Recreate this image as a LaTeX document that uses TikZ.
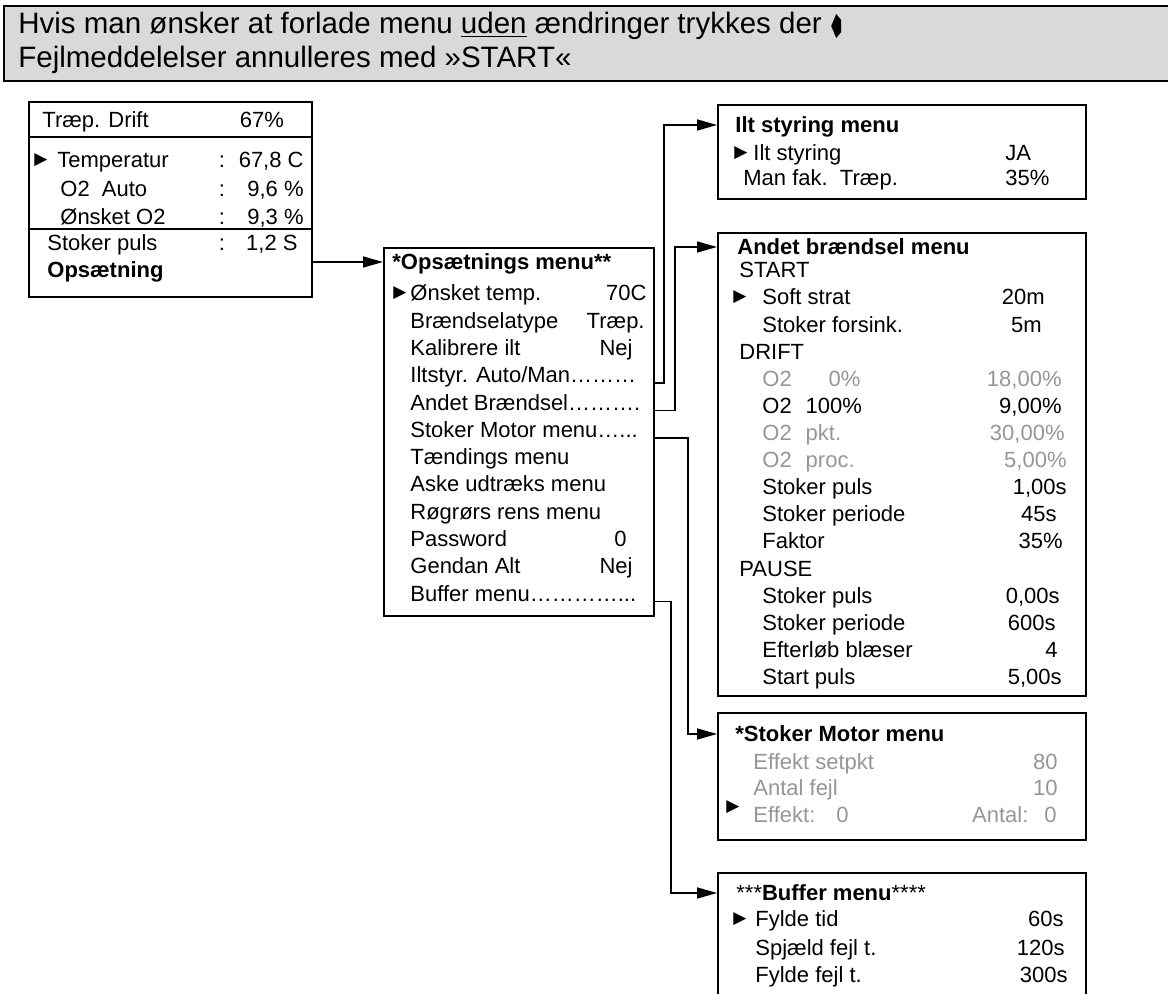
\documentclass[tikz,border=0pt]{standalone}
\usepackage{fontspec}
\setmainfont{Liberation Sans}
\newfontfamily\symfont{DejaVu Sans}
\usetikzlibrary{arrows.meta,calc,positioning}
\definecolor{notegray}{RGB}{217,217,217}
\definecolor{dimgray}{RGB}{150,150,150}

\begin{document}
\begin{tikzpicture}[
  x=0.5pt, y=-0.5pt,
  frame/.style={draw, line width=1pt, anchor=north west, inner sep=0pt},
  txt/.style={anchor=west, inner sep=0pt, text height=7.9pt, text depth=0pt, font=\fontsize{11pt}{13pt}\selectfont},
  val/.style={txt, anchor=east},
  head/.style={txt, font=\fontsize{11pt}{13pt}\selectfont\bfseries},
  dim/.style={text=dimgray},
  pointer/.style={inner sep=0pt, font=\symfont\fontsize{8.5pt}{8.5pt}\selectfont},
  msg/.style={anchor=west, inner sep=0pt, font=\fontsize{14.75pt}{17.5pt}\selectfont},
  arr/.style={line width=0.8pt, -{Triangle[length=10pt,width=5.5pt]}}
  ]
  \useasboundingbox (0,0) rectangle (1168,994);

  % banner
  \node[frame, fill=notegray, line width=1.2pt, minimum width=600pt, minimum height=37.5pt] (note) at (3,5) {};
  \node[msg] (msg1) at (18,26) {Hvis man ønsker at forlade menu \underline{uden} ændringer trykkes der};
  \node[msg] (msg2) at (18,60) {Fejlmeddelelser annulleres med »START«};
  \fill ($(msg1.east)+(9,0)$) -- ++(5,-12) -- ++(5,6) -- ++(0,12) -- ++(-5,6) -- cycle;

  % status display
  \node[frame, minimum width=141.5pt, minimum height=97.5pt] (main) at (28,101) {};
  \draw[line width=1pt] (28,137) -- (311,137) (28,229) -- (311,229);
  \node[txt] (drift) at (42,120) {Træp. Drift};
  \node[txt, anchor=center] (load) at (262,120) {67\%};
  \node[pointer] (mMark) at (41,160) {▶};
  \node[txt] (temp) at (57,160) {Temperatur};
  \node[txt] (o2auto) at (60,189) {O2\ \ Auto};
  \node[txt] (o2want) at (60,217) {Ønsket O2};
  \node[txt] (puls) at (47,243) {Stoker puls};
  \node[head] (opsat) at (47,270) {Opsætning};
  \node[txt, anchor=center] (c1) at (222,160) {:};
  \node[txt, anchor=center] (c2) at (222,189) {:};
  \node[txt, anchor=center] (c3) at (222,217) {:};
  \node[txt, anchor=center] (c4) at (222,243) {:};
  \node[val] (vTemp) at (304,160) {67,8 C};
  \node[val] (vAuto) at (304,189) {9,6 \%};
  \node[val] (vWant) at (304,217) {9,3 \%};
  \node[val] (vPuls) at (298,243) {1,2 S};

  % setup menu
  \node[frame, minimum width=135pt, minimum height=184pt] (setup) at (383,247) {};
  \node[head] (sTitle) at (392,262) {*Opsætnings menu**};
  \node[pointer] (sMark) at (400,293) {▶};
  \node[txt] (s1) at (410,293) {Ønsket temp.};
  \node[txt] (s2) at (410,320.3) {Brændselatype};
  \node[txt] (s3) at (410,347.6) {Kalibrere ilt};
  \node[txt] (s4) at (410,374.9) {Iltstyr. Auto/Man………};
  \node[txt] (s5) at (410,402.2) {Andet Brændsel……….};
  \node[txt] (s6) at (410,429.5) {Stoker Motor menu…...};
  \node[txt] (s7) at (410,456.8) {Tændings menu};
  \node[txt] (s8) at (410,484.1) {Aske udtræks menu};
  \node[txt] (s9) at (410,511.4) {Røgrørs rens menu};
  \node[txt] (s10) at (410,538.7) {Password};
  \node[txt] (s11) at (410,566) {Gendan Alt};
  \node[txt] (s12) at (410,593.3) {Buffer menu…………...};
  \node[val] (sv1) at (647,293) {70C};
  \node[val] (sv2) at (645,320.3) {Træp.};
  \node[val] (sv3) at (633,347.6) {Nej};
  \node[val] (sv10) at (627,538.7) {0};
  \node[val] (sv11) at (633,566) {Nej};

  % oxygen control
  \node[frame, minimum width=184pt, minimum height=47pt] (ilt) at (717,104) {};
  \node[head] (iTitle) at (735,125) {Ilt styring menu};
  \node[pointer] (iMark) at (741,153) {▶};
  \node[txt] (i1) at (753,153) {Ilt styring};
  \node[txt] (i2) at (743,178) {Man fak.\ \ Træp.};
  \node[txt] (iv1) at (1005,153) {JA};
  \node[txt] (iv2) at (1005,178) {35\%};

  % second fuel
  \node[frame, minimum width=184pt, minimum height=231.5pt] (fuel) at (717,232) {};
  \node[head] (fTitle) at (737,247) {Andet brændsel menu};
  \node[txt] (fStart) at (739,270) {START};
  \node[pointer] (fMark) at (740,297.1) {▶};
  \node[txt] (f1) at (762,297.1) {Soft strat};
  \node[txt] (f2) at (762,324.2) {Stoker forsink.};
  \node[txt] (fDrift) at (739,351.3) {DRIFT};
  \node[txt, dim] (f3) at (762,378.4) {O2\hspace{18.5pt}0\%};
  \node[txt] (f4) at (762,405.5) {O2\hspace{7pt}100\%};
  \node[txt, dim] (f5) at (762,432.6) {O2\hspace{7pt}pkt.};
  \node[txt, dim] (f6) at (762,459.7) {O2\hspace{7pt}proc.};
  \node[txt] (f7) at (762,486.8) {Stoker puls};
  \node[txt] (f8) at (762,513.9) {Stoker periode};
  \node[txt] (f9) at (762,541) {Faktor};
  \node[txt] (fPause) at (739,568.1) {PAUSE};
  \node[txt] (f10) at (762,595.2) {Stoker puls};
  \node[txt] (f11) at (762,622.3) {Stoker periode};
  \node[txt] (f12) at (762,649.4) {Efterløb blæser};
  \node[txt] (f13) at (762,676.5) {Start puls};
  \node[val] (fv1) at (1045,297.1) {20m};
  \node[val] (fv2) at (1042,324.2) {5m};
  \node[val, dim] (fv3) at (1062,378.4) {18,00\%};
  \node[val] (fv4) at (1062,405.5) {9,00\%};
  \node[val, dim] (fv5) at (1065,432.6) {30,00\%};
  \node[val, dim] (fv6) at (1067,459.7) {5,00\%};
  \node[val] (fv7) at (1067,486.8) {1,00s};
  \node[val] (fv8) at (1057,513.9) {45s};
  \node[val] (fv9) at (1063,541) {35\%};
  \node[val] (fv10) at (1060,595.2) {0,00s};
  \node[val] (fv11) at (1056,622.3) {600s};
  \node[val] (fv12) at (1058,649.4) {4};
  \node[val] (fv13) at (1062,676.5) {5,00s};

  % stoker motor
  \node[frame, minimum width=184pt, minimum height=63.5pt] (stoker) at (717,712) {};
  \node[head] (kTitle) at (735,734) {*Stoker Motor menu};
  \node[txt, dim] (k1) at (753,762) {Effekt setpkt};
  \node[txt, dim] (k2) at (753,788) {Antal fejl};
  \node[pointer] (kMark) at (733,807) {▶};
  \node[txt, dim] (k3) at (753,815) {Effekt:\hspace{10.5pt}0};
  \node[val, dim] (kv1) at (1058,762) {80};
  \node[val, dim] (kv2) at (1058,788) {10};
  \node[val, dim] (kv3) at (1057,815) {Antal:\hspace{8pt}0};

  % buffer
  \node[frame, minimum width=184pt, minimum height=70pt] (buffer) at (717,872) {};
  \node[head] (bTitle) at (736,893) {{\mdseries ***}Buffer menu{\mdseries ****}};
  \node[pointer] (bMark) at (740,919) {▶};
  \node[txt] (b1) at (755,919) {Fylde tid};
  \node[txt] (b2) at (755,948) {Spjæld fejl t.};
  \node[txt] (b3) at (755,975) {Fylde fejl t.};
  \node[val] (bv1) at (1064,919) {60s};
  \node[val] (bv2) at (1065,948) {120s};
  \node[val] (bv3) at (1068,975) {300s};

  % links
  \draw[arr] (main.east |- sTitle) -- (setup.west |- sTitle);
  \draw[arr] (setup.east |- s4.south) -- ++(9,0) |- (ilt.west |- iTitle);
  \draw[arr] (setup.east |- s5.south) -- ++(20,0) |- (fuel.west |- fTitle);
  \draw[arr] (setup.east |- s6.south) -- ++(33,0) |- (stoker.west |- kTitle);
  \draw[arr] (setup.east |- s12.south) -- ++(16,0) |- (buffer.west |- bTitle);
\end{tikzpicture}
\end{document}
